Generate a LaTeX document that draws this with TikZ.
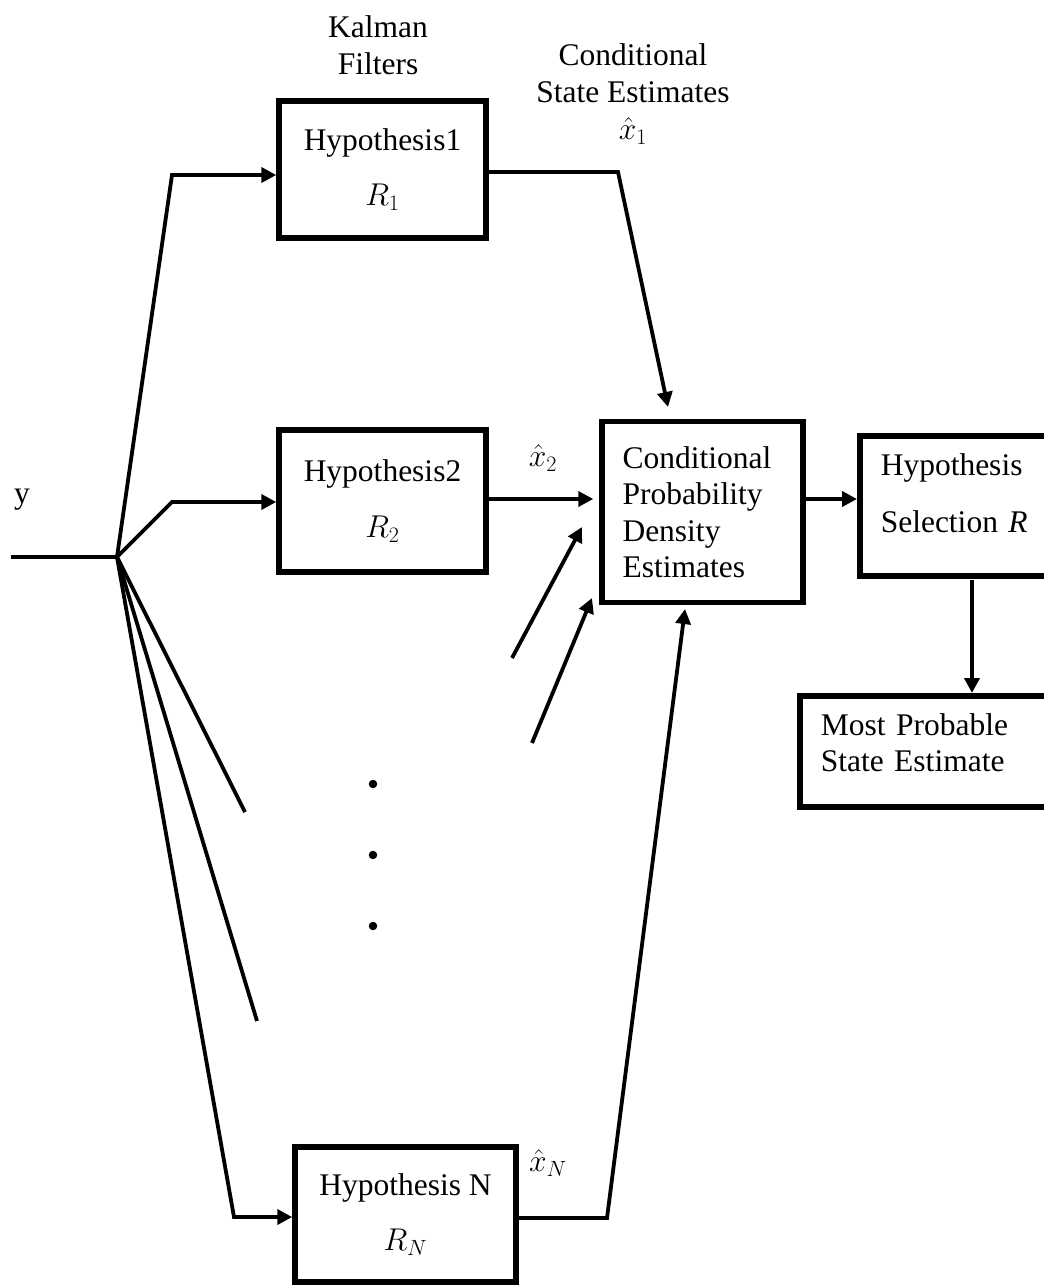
\RequirePackage{fix-cm}
\documentclass[tikz,border=0pt]{standalone}
\usepackage{fontspec}
\setmainfont{Liberation Serif}
\usetikzlibrary{arrows.meta,calc}

\tikzset{
  box/.style={draw, line width=5.5pt, rectangle, inner sep=0pt},
  conn/.style={line width=3.8pt, line join=miter},
  arr/.style={conn, -{Triangle[length=15pt,width=15pt]}},
  lbl/.style={inner sep=0pt, align=center},
  dot/.style={circle, fill, inner sep=0pt, minimum size=8.5pt}
}

\begin{document}
\begin{tikzpicture}[x=1pt, y=-1pt, font=\fontsize{31.5}{36.5}\selectfont]
  \useasboundingbox (0,0) rectangle (1044,1285);
  \fill[white] (0,0) rectangle (1044,1285);
  \clip (0,0) rectangle (1044,1285);

  % column headings
  \node[lbl] (kf) at (378,45) {Kalman\\Filters};
  \node[lbl] (cse) at (633,73) {Conditional\\State Estimates};
  \node[lbl] (x1) at (633,131) {$\hat{x}_1$};

  % Kalman filter bank
  \node[box, minimum width=207pt, minimum height=137pt, align=center] (h1) at (382.5,169.5)
    {Hypothesis1\\[19pt]$R_1$};
  \node[box, minimum width=207pt, minimum height=142pt, align=center] (h2) at (382.5,501)
    {Hypothesis2\\[19pt]$R_2$};
  \node[box, minimum width=221pt, minimum height=135pt, align=center] (hN) at (405.5,1214.5)
    {Hypothesis N\\[19pt]$R_N$};

  % density estimates and selection
  \node[box, minimum width=201pt, minimum height=181pt, text width=160pt, align=left] (cpde) at (702.5,512)
    {Conditional\\Probability\\Density\\Estimates};
  \node[box, anchor=north west, minimum width=215pt, minimum height=140pt,
        text width=175pt, inner xsep=21pt, align=left, text depth=82pt] (sel) at (857,433)
    {Hypothesis\\[20pt]Selection \textit{R}};
  \node[box, anchor=north west, minimum width=275pt, minimum height=111pt,
        text width=235pt, inner xsep=21pt, align=left, text depth=54pt] (mps) at (797,693)
    {Most Probable\\State Estimate};

  % input signal and fan-out
  \node[lbl] (ylbl) at (22,500) {y};
  \coordinate (yin) at (11,557);
  \coordinate (J) at (117,557);
  \coordinate (k1) at (172,175);
  \coordinate (k2) at (172,502);
  \coordinate (k3) at (234,1217);
  \coordinate (f1) at (245,812);
  \coordinate (f2) at (257,1021);

  \draw[conn] (yin) -- (J);
  \draw[arr] (J) -- (k1) -- (k1 -| h1.west);
  \draw[arr] (J) -- (k2) -- (k2 -| h2.west);
  \draw[arr] (J) -- (k3) -- (k3 -| hN.west);
  \draw[conn] (J) -- (f1);
  \draw[conn] (J) -- (f2);

  % ellipsis for the remaining filters
  \node[dot] (d1) at (373,784) {};
  \node[dot] (d2) at (373,855) {};
  \node[dot] (d3) at (373,926) {};

  % state estimates into the density block
  \coordinate (o1) at (618,172);
  \coordinate (t1) at (668,407);
  \draw[arr] (h1.east |- o1) -- (o1) -- (t1);

  \node[lbl] (x2) at (543,458) {$\hat{x}_2$};
  \coordinate (o2) at (488,499);
  \draw[arr, shorten >=6pt] (o2) -- (o2 -| cpde.west);

  \coordinate (s1) at (512,658);
  \coordinate (t2) at (582,527);
  \draw[arr] (s1) -- (t2);
  \coordinate (s2) at (532,743);
  \coordinate (t3) at (592,598);
  \draw[arr] (s2) -- (t3);

  \node[lbl] (xN) at (548,1163) {$\hat{x}_N$};
  \coordinate (oN) at (607,1218);
  \coordinate (tN) at (685,609);
  \draw[arr] (hN.east |- oN) -- (oN) -- (tN);

  % selection stage
  \coordinate (o3) at (803,499);
  \draw[arr] (o3) -- (o3 -| sel.west);
  \coordinate (o4) at (972,580);
  \draw[arr] (o4) -- (o4 |- mps.north);
\end{tikzpicture}
\end{document}
